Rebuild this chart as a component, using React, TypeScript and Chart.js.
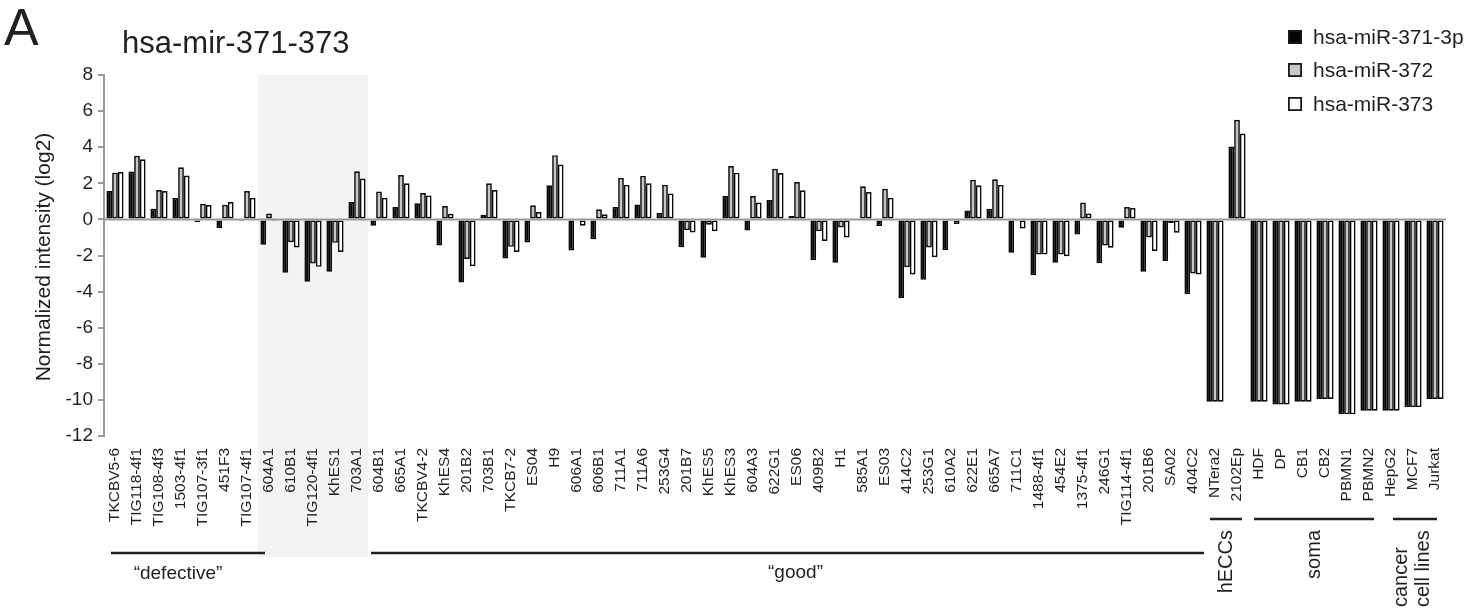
import React, { useEffect, useRef } from 'react';
import { Chart, registerables } from 'chart.js';

Chart.register(...registerables);

const categories = [
  'TKCBV5-6', 'TIG118-4f1', 'TIG108-4f3', '1503-4f1', 'TIG107-3f1', '451F3', 'TIG107-4f1',
  '604A1', '610B1', 'TIG120-4f1', 'KhES1', '703A1',
  '604B1', '665A1', 'TKCBV4-2', 'KhES4', '201B2', '703B1', 'TKCB7-2', 'ES04', 'H9', '606A1',
  '606B1', '711A1', '711A6', '253G4', '201B7', 'KhES5', 'KhES3', '604A3', '622G1', 'ES06',
  '409B2', 'H1', '585A1', 'ES03', '414C2', '253G1', '610A2', '622E1', '665A7', '711C1',
  '1488-4f1', '454E2', '1375-4f1', '246G1', 'TIG114-4f1', '201B6', 'SA02', '404C2',
  'NTera2', '2102Ep',
  'HDF', 'DP', 'CB1', 'CB2', 'PBMN1', 'PBMN2',
  'HepG2', 'MCF7', 'Jurkat',
];

const mir371 = [
  1.57, 2.65, 0.59, 1.19, -0.15, -0.48, -0.1,
  -1.4, -2.95, -3.45, -2.9, 0.96,
  -0.35, 0.69, 0.89, -1.45, -3.5, 0.26, -2.17, -1.28, 1.89, -1.72,
  -1.1, 0.69, 0.83, 0.37, -1.54, -2.12, 1.3, -0.62, 1.07, 0.19,
  -2.27, -2.4, 0.05, -0.37, -4.35, -3.35, -1.7, 0.5, 0.59, -1.85,
  -3.1, -2.4, -0.83, -2.43, -0.46, -2.9, -2.3, -4.15,
  -10.1, 4.04,
  -10.1, -10.25, -10.1, -9.95, -10.8, -10.6,
  -10.6, -10.4, -9.95,
];

const mir372 = [
  2.59, 3.52, 1.63, 2.89, 0.87, 0.81, 1.57,
  0.33, -1.26, -2.44, -1.3, 2.67,
  1.54, 2.46, 1.46, 0.74, -2.19, 2.0, -1.52, 0.78, 3.56, -0.05,
  0.56, 2.3, 2.41, 1.91, -0.6, -0.3, 2.96, 1.3, 2.81, 2.07,
  -0.65, -0.45, 1.83, 1.7, -2.65, -1.55, -0.1, 2.19, 2.22, -0.1,
  -1.95, -1.94, 0.93, -1.45, 0.69, -1.0, -0.2, -3.0,
  -10.1, 5.52,
  -10.1, -10.25, -10.1, -9.95, -10.8, -10.6,
  -10.6, -10.4, -9.95,
];

const mir373 = [
  2.63, 3.33, 1.57, 2.43, 0.8, 0.96, 1.19,
  -0.03, -1.56, -2.63, -1.8, 2.26,
  1.19, 2.0, 1.33, 0.31, -2.59, 1.63, -1.81, 0.41, 3.04, -0.35,
  0.28, 1.91, 2.0, 1.44, -0.72, -0.65, 2.59, 0.93, 2.57, 1.61,
  -1.2, -1.0, 1.52, 1.19, -3.05, -2.1, -0.25, 1.89, 1.91, -0.5,
  -1.95, -2.04, 0.33, -1.57, 0.63, -1.75, -0.74, -3.05,
  -10.1, 4.76,
  -10.1, -10.25, -10.1, -9.95, -10.8, -10.6,
  -10.6, -10.4, -9.95,
];

const seriesNames = ['hsa-miR-371-3p', 'hsa-miR-372', 'hsa-miR-373'];
const seriesColors = ['#050505', '#c8c8c8', '#ffffff'];

const yMin = -12;
const yMax = 8;
const yStep = 2;

const panelLetter = 'A';
const chartTitle = 'hsa-mir-371-373';
const yAxisTitle = 'Normalized intensity (log2)';

// group brackets: first and last category index
const groupLabels = ['\u201Cdefective\u201D', '\u201Cgood\u201D', 'hECCs', 'soma', 'cancer|cell lines'];
const groupFrom = [0, 12, 50, 52, 58];
const groupTo = [6, 49, 51, 57, 60];
const shadedFrom = 7;
const shadedTo = 11;

const FONT = '"Liberation Sans", Arial, Helvetica, sans-serif';
const TEXT = '#231f20';

const overlayPlugin = {
  id: 'overlay',
  beforeDraw(chart: any) {
    const { ctx, chartArea, scales } = chart;
    const x = scales.x;
    const half = (x.getPixelForValue(1) - x.getPixelForValue(0)) / 2;
    const left = x.getPixelForValue(shadedFrom) - half;
    const right = x.getPixelForValue(shadedTo) + half;
    ctx.save();
    ctx.fillStyle = '#f2f4f3';
    ctx.fillRect(left, chartArea.top, right - left, 557 - chartArea.top);
    ctx.restore();
  },
  afterDatasetsDraw(chart: any) {
    const { ctx, chartArea, scales } = chart;
    const y0 = scales.y.getPixelForValue(0);
    ctx.save();
    ctx.strokeStyle = '#999999';
    ctx.lineWidth = 2;
    ctx.beginPath();
    ctx.moveTo(chartArea.left, y0);
    ctx.lineTo(chartArea.right, y0);
    ctx.stroke();
    ctx.restore();
  },
  afterDraw(chart: any) {
    const { ctx, scales } = chart;
    const x = scales.x;
    const half = (x.getPixelForValue(1) - x.getPixelForValue(0)) / 2;
    ctx.save();
    ctx.fillStyle = TEXT;
    ctx.textBaseline = 'alphabetic';
    ctx.textAlign = 'left';
    ctx.font = `52px ${FONT}`;
    ctx.fillText(panelLetter, 4, 45);
    ctx.font = `31px ${FONT}`;
    ctx.fillText(chartTitle, 122, 53);

    // y axis title
    ctx.save();
    ctx.translate(44, 257);
    ctx.rotate(-Math.PI / 2);
    ctx.textAlign = 'center';
    ctx.textBaseline = 'middle';
    ctx.font = `21px ${FONT}`;
    ctx.fillText(yAxisTitle, 0, 0);
    ctx.restore();

    // legend
    const legendY = [37, 70, 104];
    ctx.font = `21px ${FONT}`;
    ctx.textBaseline = 'middle';
    seriesNames.forEach((name, i) => {
      const cy = legendY[i];
      ctx.fillStyle = seriesColors[i];
      ctx.fillRect(1288, cy - 7, 14, 14);
      ctx.strokeStyle = '#1a1a1a';
      ctx.lineWidth = 1.8;
      ctx.strokeRect(1288.9, cy - 6.1, 12.2, 12.2);
      ctx.fillStyle = TEXT;
      ctx.fillText(name, 1313, cy + 1);
    });

    // brackets
    ctx.strokeStyle = TEXT;
    ctx.lineWidth = 2.5;
    const bracket = (a: number, b: number, y: number) => {
      ctx.beginPath();
      ctx.moveTo(a, y);
      ctx.lineTo(b, y);
      ctx.stroke();
    };
    const L = (i: number) => x.getPixelForValue(i) - half;
    const R = (i: number) => x.getPixelForValue(i) + half;

    // defective
    const d0 = L(groupFrom[0]) + 7, d1 = R(groupTo[0]) + 7;
    bracket(d0, d1, 553);
    // good
    const g0 = L(groupFrom[1]) + 3, g1 = R(groupTo[1]);
    bracket(g0, g1, 553);
    ctx.font = `19px ${FONT}`;
    ctx.textAlign = 'center';
    ctx.textBaseline = 'middle';
    ctx.fillStyle = TEXT;
    ctx.fillText(groupLabels[0], (d0 + d1) / 2 - 10, 574);
    ctx.fillText(groupLabels[1], (g0 + g1) / 2 + 8, 573);

    // hECCs, soma
    const rotText = (t: string, cx: number, cy: number, align: CanvasTextAlign) => {
      ctx.save();
      ctx.translate(cx, cy);
      ctx.rotate(-Math.PI / 2);
      ctx.textAlign = align;
      ctx.textBaseline = 'middle';
      ctx.fillText(t, 0, 0);
      ctx.restore();
    };
    ctx.font = `20px ${FONT}`;
    for (let k = 2; k <= 3; k++) {
      const a = L(groupFrom[k]) + 6, b = R(groupTo[k]) - 6;
      bracket(a, b, 519);
      rotText(groupLabels[k], (a + b) / 2, 530, 'right');
    }
    {
      const a = L(groupFrom[4]) + 13, b = R(groupTo[4]) - 9;
      bracket(a, b, 519);
      const parts = groupLabels[4].split('|');
      rotText(parts[0], (a + b) / 2 - 14, 607, 'left');
      rotText(parts[1], (a + b) / 2 + 8, 607, 'left');
    }
    ctx.restore();
  },
};

export default function App() {
  const canvasRef = useRef<HTMLCanvasElement | null>(null);

  useEffect(() => {
    const canvas = canvasRef.current;
    if (!canvas) return;
    const barStyle = {
      borderColor: '#0a0a0a',
      borderWidth: 1.7,
      borderSkipped: false as const,
      categoryPercentage: 0.78,
      barPercentage: 1.0,
    };
    const chart = new Chart(canvas, {
      type: 'bar',
      data: {
        labels: categories,
        datasets: [
          { label: seriesNames[0], data: mir371, backgroundColor: seriesColors[0], ...barStyle },
          { label: seriesNames[1], data: mir372, backgroundColor: seriesColors[1], ...barStyle },
          { label: seriesNames[2], data: mir373, backgroundColor: seriesColors[2], ...barStyle },
        ],
      },
      options: {
        responsive: false,
        animation: false,
        devicePixelRatio: 1,
        layout: { padding: { top: 75, right: 36, left: 0, bottom: 0 } },
        plugins: {
          legend: { display: false },
          tooltip: { enabled: false },
          title: { display: false },
        },
        scales: {
          x: {
            grid: { display: false, drawTicks: false },
            border: { display: false },
            ticks: {
              autoSkip: false,
              minRotation: 90,
              maxRotation: 90,
              padding: 12,
              color: TEXT,
              font: { family: FONT, size: 15.5 },
            },
            afterFit: (scale: any) => {
              scale.height = 175;
            },
          },
          y: {
            min: yMin,
            max: yMax,
            grid: {
              display: true,
              drawOnChartArea: false,
              drawTicks: true,
              tickLength: 6,
              color: '#999999',
              lineWidth: 2,
            },
            border: { display: true, color: '#999999', width: 2 },
            ticks: {
              stepSize: yStep,
              padding: 5,
              color: TEXT,
              font: { family: FONT, size: 19 },
            },
            afterFit: (scale: any) => {
              scale.width = 104;
            },
          },
        },
      },
      plugins: [overlayPlugin],
    });
    return () => chart.destroy();
  }, []);

  return (
    <div style={{ position: 'absolute', left: 0, top: 0, width: 1482, height: 611, background: '#fff' }}>
      <canvas ref={canvasRef} width={1482} height={611} style={{ display: 'block' }} />
    </div>
  );
}
